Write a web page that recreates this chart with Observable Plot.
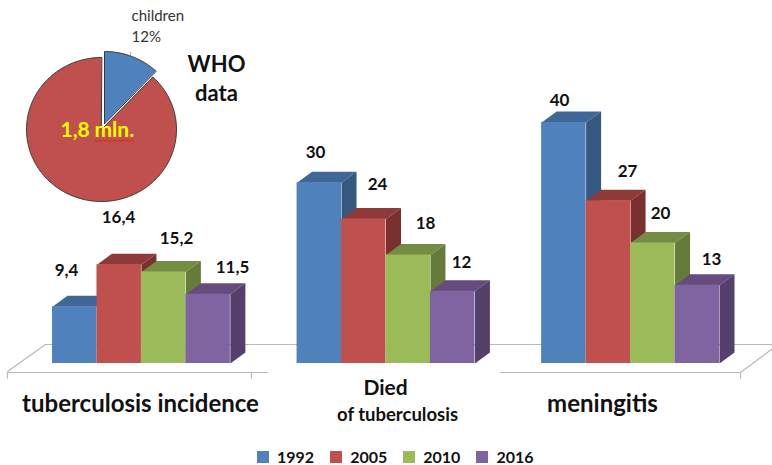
<!DOCTYPE html>
<html><head><meta charset="utf-8">
<script src="https://cdn.jsdelivr.net/npm/d3@7"></script>
<script src="https://cdn.jsdelivr.net/npm/@observablehq/plot@0.6"></script>
<style>
html,body{margin:0;padding:0;background:#fff}
#chart{width:772px;height:465px;overflow:hidden}
#chart > svg{display:block}
</style></head>
<body><div id="chart"></div>
<script>
const categories = ["tuberculosis incidence", "Died of tuberculosis", "meningitis"];
const years = ["1992", "2005", "2010", "2016"];
const incidence = [9.4, 16.4, 15.2, 11.5];
const died = [30, 24, 18, 12];
const meningitis = [40, 27, 20, 13];
const series = [incidence, died, meningitis];
const pieLabels = ["children", "other"];
const pieValues = [12, 88];

const front = ["#4F81BD", "#C0504D", "#9BBB59", "#8064A2"];
const top3d = ["#3F6797", "#8E3A38", "#748C43", "#644C7E"];
const side3d = ["#355880", "#7A302E", "#667B3A", "#553F6B"];
const font = "Lato, 'Open Sans', sans-serif";

// layout: pixel helpers for annotations (plot margins map the value scales)
const W = 772, H = 439, baseY = 363, left = 52, right = 719, topY = 122;
const u = px => (px - left) / ((right - left) / 15);
const v = py => (baseY - py) / ((baseY - topY) / 40);
const depthX = 15, depthY = 11, groupStep = 5.5;

const bars = series.flatMap((vals, g) => vals.map((value, j) => ({
  value, j, x1: g * groupStep + j, x2: g * groupStep + j + 1, fill: front[j], id: `${g}-${j}`
})));
const dU = u(left + depthX), dV = depthY * 40 / (baseY - topY);
const faces = bars.flatMap(b => [
  [[b.x1, b.value], [b.x1 + dU, b.value + dV], [b.x2 + dU, b.value + dV], [b.x2, b.value]].map(p => ({x: p[0], y: p[1], id: b.id + "t", fill: top3d[b.j]})),
  [[b.x2, 0], [b.x2 + dU, dV], [b.x2 + dU, b.value + dV], [b.x2, b.value]].map(p => ({x: p[0], y: p[1], id: b.id + "s", fill: side3d[b.j]}))
]).flat();

// value labels placed as in the picture
const labelPos = [[66,270],[118,217],[176,238],[232,267],[315,152],[377,184],[425,223],[461,262],[559,100],[627,171],[660,213],[711,259]];
const labels = bars.map((b, i) => ({x: u(labelPos[i][0]), y: v(labelPos[i][1]), t: String(b.value).replace(".", ",")}));

// pie slices from the values
const rx = 75, ry = 72;
const arcs = d3.pie().sort(null)(pieValues);
const centers = [[104, 123], [101, 129]];
const pieFill = [front[0], front[1]];
const slices = arcs.flatMap((a, i) => {
  const [cx, cy] = centers[i];
  const n = Math.ceil((a.endAngle - a.startAngle) * 40);
  const pts = [{x: u(cx), y: v(cy)}];
  for (let k = 0; k <= n; k++) {
    const t = a.startAngle + (a.endAngle - a.startAngle) * k / n;
    pts.push({x: u(cx + rx * Math.sin(t)), y: v(cy - ry * Math.cos(t))});
  }
  return pts.map(p => ({...p, id: pieLabels[i], fill: pieFill[i]}));
});

const notes = [
  {x: u(140), y: v(404), t: categories[0], s: 24},
  {x: u(385), y: v(388), t: "Died", s: 21},
  {x: u(397), y: v(415), t: "of tuberculosis", s: 18.5},
  {x: u(602), y: v(404), t: categories[2], s: 24},
  {x: u(216), y: v(64), t: "WHO", s: 22},
  {x: u(216), y: v(93), t: "data", s: 22}
];
const floorColor = "#b8b8b8";
const hLines = [[7,268,372],[500,740,372],[45,772,344]];
const segs = [[7,371,45,344],[740,372,772,348],[7,372,7,378],[251,372,251,378],[740,372,740,378],[130,51,130,55]];
// spell-check squiggle under "mln."
const squiggle = d3.range(95, 134, 2).map((px, i) => ({x: u(px), y: v(i % 2 ? 141 : 139.5)}));

const txt = (d, o) => Plot.text(d, {x: "x", y: "y", text: "t", fontFamily: font, fontWeight: 700, fill: "#111", ...o});

const plot = Plot.plot({
  width: W, height: H,
  marginLeft: left, marginRight: W - right, marginTop: topY, marginBottom: H - baseY,
  x: {domain: [0, 15], axis: null},
  y: {domain: [0, 40], axis: null},
  color: {type: "identity"},
  marks: [
    Plot.ruleY(hLines, {x1: d => u(d[0]), x2: d => u(d[1]), y: d => v(d[2]), stroke: floorColor, strokeWidth: 1.2}),
    Plot.link(segs, {x1: d => u(d[0]), y1: d => v(d[1]), x2: d => u(d[2]), y2: d => v(d[3]), stroke: floorColor, strokeWidth: 1.2}),
    Plot.line(faces, {x: "x", y: "y", z: "id", fill: "fill", stroke: null, curve: "linear-closed"}),
    Plot.rect(bars, {x1: "x1", x2: "x2", y1: 0, y2: "value", fill: "fill"}),
    Plot.line(slices, {x: "x", y: "y", z: "id", fill: "fill", stroke: "#3a3a3a", strokeWidth: 1, curve: "linear-closed"}),
    txt(labels, {fontSize: 17}),
    txt(notes, {fontSize: d => d.s}),
    Plot.text([{x: u(131), y: v(16), t: pieLabels[0]}, {x: u(131), y: v(37), t: pieValues[0] + "%"}],
      {x: "x", y: "y", text: "t", textAnchor: "start", fontFamily: font, fontSize: 15, fill: "#333"}),
    Plot.line(squiggle, {x: "x", y: "y", stroke: "#e02020", strokeWidth: 1}),
    txt([{x: u(60), y: v(130), t: "1,8"}], {textAnchor: "start", fontSize: 21, fill: "#FFFF00"}),
    txt([{x: u(94), y: v(130), t: "mln."}], {textAnchor: "start", fontSize: 21, fill: "#FFFF00"})
  ]
});
const legend = Plot.legend({
  color: {type: "ordinal", domain: years, range: front},
  legend: "swatches", swatchSize: 12,
  style: {fontSize: "16px", fontWeight: 700, fontFamily: font, color: "#111", marginLeft: "257px", marginTop: "1px", marginBottom: "0"}
});
const root = document.getElementById("chart");
root.append(plot, legend);
</script></body></html>
